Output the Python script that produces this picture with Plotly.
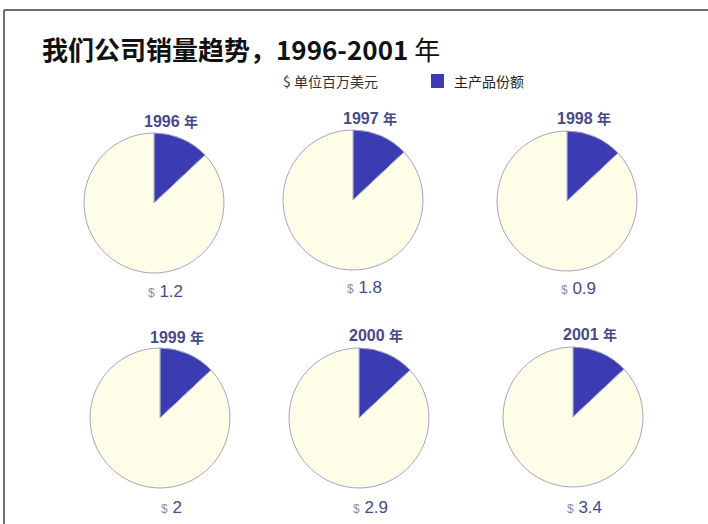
import plotly.graph_objects as go

# Sales per year (US$ millions) and the main product's share of each year's pie (%)
years = ["1996", "1997", "1998", "1999", "2000", "2001"]
sales = ["1.2", "1.8", "0.9", "2", "2.9", "3.4"]
main_share = [13, 13, 13, 13, 13, 13]
slice_labels = ["主产品份额", "其他"]

title_text = "<b>我们公司销量趋势，1996-2001</b> 年"
unit_text = "$ 单位百万美元"
legend_text = "主产品份额"

W, H = 708, 524
# pie centres (px) and radius on the page
centres = [(154, 203), (353, 200), (567, 201), (160, 418), (359, 418), (573, 417)]
R = 70
year_label_dy = [-82, -82, -83, -81, -83, -83]
value_label_dy = [88, 87, 87, 89, 89, 90]

BLUE = "#3c3cb2"
CREAM = "#fefee8"
EDGE = "#a4a4c4"
LABEL = "#464a8a"
FONT = "Liberation Sans, Arial, sans-serif"
CJK = "Noto Sans CJK SC, sans-serif"


def px(x):
    return x / W


def py(y):
    return 1 - y / H


def note(text, x, y, font, xanchor="center"):
    return dict(text=text, x=px(x), y=py(y), xref="paper", yref="paper",
                xanchor=xanchor, yanchor="middle", showarrow=False, font=font)


fig = go.Figure()
for i, yr in enumerate(years):
    cx, cy = centres[i]
    fig.add_trace(go.Pie(
        labels=slice_labels,
        values=[main_share[i], 100 - main_share[i]],
        sort=False,
        direction="clockwise",
        rotation=0,
        marker=dict(colors=[BLUE, CREAM], line=dict(color=EDGE, width=1)),
        textinfo="none",
        hoverinfo="label+percent",
        showlegend=False,
        domain=dict(x=[px(cx - R), px(cx + R)], y=[py(cy + R), py(cy - R)]),
    ))

annotations = [
    note(title_text, 40, 48, dict(family=CJK, size=26, color="#111111"), "left"),
    note(unit_text, 281, 81, dict(family=CJK, size=14, color="#333333"), "left"),
    note(legend_text, 452, 81, dict(family=CJK, size=14, color="#222222"), "left"),
]
for i, yr in enumerate(years):
    cx, cy = centres[i]
    annotations.append(note(
        f"<b>{yr}</b> <span style='font-family:Noto Sans CJK SC;font-size:14px'><b>年</b></span>",
        cx + 17, cy + year_label_dy[i], dict(family=FONT, size=16, color=LABEL)))
    annotations.append(note(
        f"<span style='font-size:12px;color:#8a8ca8'>$</span> {sales[i]}",
        cx + 11, cy + value_label_dy[i], dict(family=FONT, size=17, color=LABEL)))

shapes = [
    # page frame (top and left rules)
    dict(type="line", xref="paper", yref="paper", x0=px(4), x1=1, y0=py(10), y1=py(10),
         line=dict(color="#6e6e6e", width=2)),
    dict(type="line", xref="paper", yref="paper", x0=px(4), x1=px(4), y0=py(10), y1=0,
         line=dict(color="#6e6e6e", width=2)),
    # legend swatch
    dict(type="rect", xref="paper", yref="paper", x0=px(431), x1=px(444), y0=py(88), y1=py(74),
         fillcolor=BLUE, line=dict(width=0)),
]

fig.update_layout(
    width=W, height=H,
    margin=dict(l=0, r=0, t=0, b=0),
    paper_bgcolor="white",
    plot_bgcolor="white",
    annotations=annotations,
    shapes=shapes,
)

fig.write_html("out.html")
